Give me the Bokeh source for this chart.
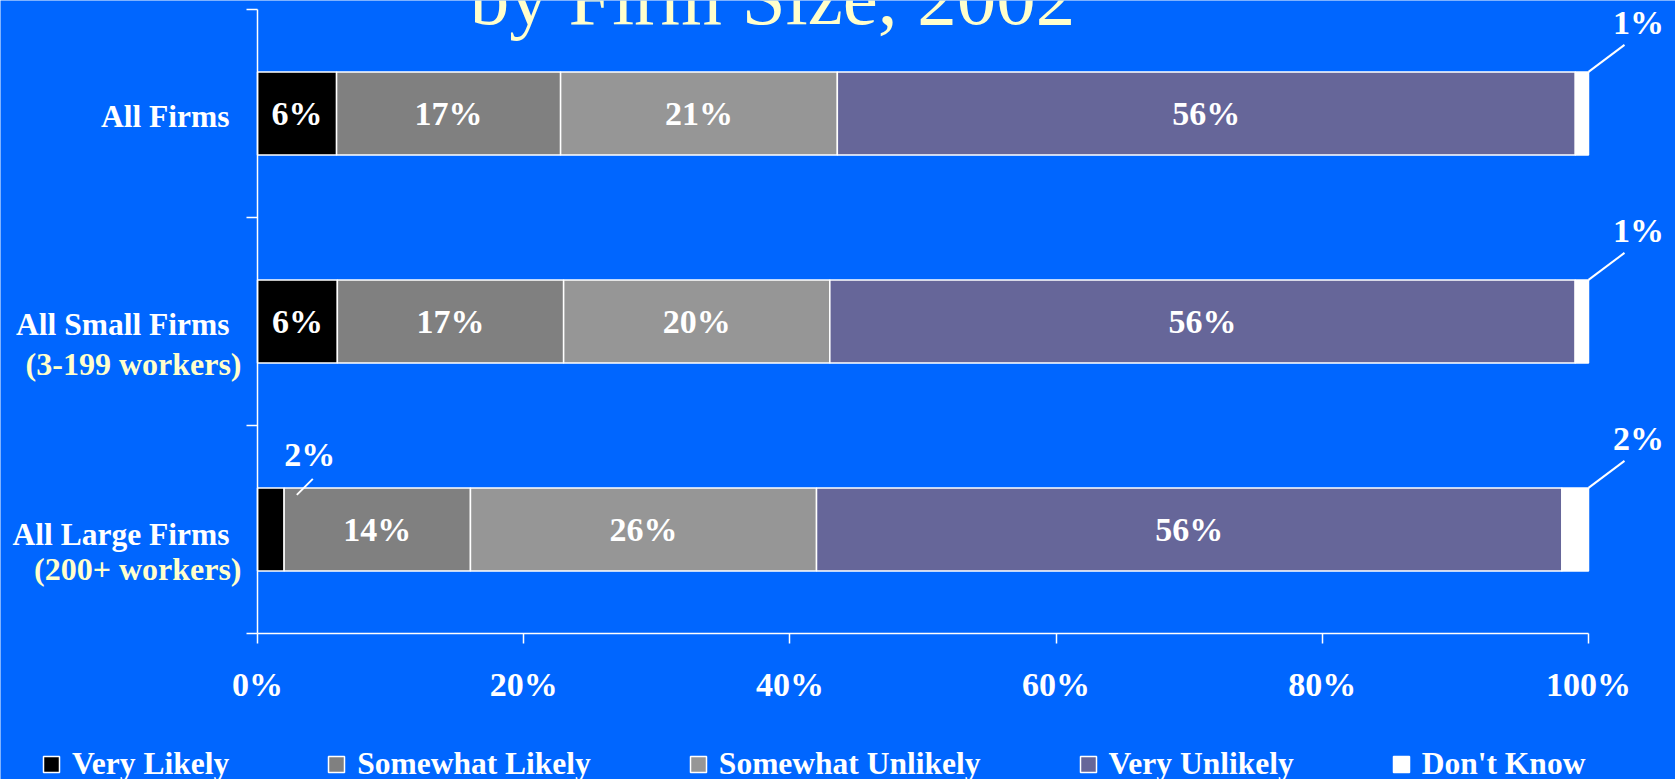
import numpy as np
from bokeh.plotting import figure
from bokeh.models import (Range1d, FixedTicker, PrintfTickFormatter, Legend,
                          LegendItem, ColumnDataSource)
from bokeh.core.properties import value
from bokeh.embed import file_html
from bokeh.resources import INLINE

# ---------------- data ----------------
categories = ["All Firms", "All Small Firms", "All Large Firms"]
subtitles = ["", "(3-199 workers)", "(200+ workers)"]
series = ["Very Likely", "Somewhat Likely", "Somewhat Unlikely", "Very Unlikely", "Don't Know"]
very_likely = [6, 6, 2]
somewhat_likely = [17, 17, 14]
somewhat_unlikely = [21, 20, 26]
very_unlikely = [56, 56, 56]
dont_know = [1, 1, 2]
x_ticks = [0, 20, 40, 60, 80, 100]
title_text = "by Firm Size, 2002"

values = [very_likely, somewhat_likely, somewhat_unlikely, very_unlikely, dont_know]

# ---------------- style / layout ----------------
FONT = "Liberation Serif"
FS = "34px"
BG = "#0066FF"
COLORS = ["#000000", "#808080", "#969696", "#666699", "#FFFFFF"]
W, H = 1675, 779
FL, FRX, FT, FB = 257, 1588, 9, 633      # plot area in pixels
PXX = (FRX - FL) / 100.0
PXY = (FB - FT) / 3.0
BAR_H = 0.4

p = figure(width=W, height=H,
           x_range=Range1d(-FL / PXX, (W - FL) / PXX),
           y_range=Range1d(-(H - FB) / PXY, FB / PXY),
           output_backend="svg", toolbar_location=None,
           min_border_left=0, min_border_right=0, min_border_top=0, min_border_bottom=0,
           background_fill_color=BG, border_fill_color=BG, outline_line_color=None)
p.xgrid.visible = False
p.ygrid.visible = False

xa = p.xaxis[0]
xa.fixed_location = 0
xa.bounds = (0, 100)
xa.ticker = FixedTicker(ticks=x_ticks)
xa.formatter = PrintfTickFormatter(format="%d%%")
xa.axis_line_color = "white"
xa.axis_line_width = 1.5
xa.major_tick_line_color = "white"
xa.major_tick_line_width = 1.5
xa.major_tick_in = 0
xa.major_tick_out = 10
xa.minor_tick_line_color = None
xa.major_label_text_font = FONT
xa.major_label_text_font_size = FS
xa.major_label_text_font_style = "bold"
xa.major_label_text_color = "white"
xa.major_label_standoff = 22

ya = p.yaxis[0]
ya.fixed_location = 0
ya.bounds = (0, 3)
ya.ticker = FixedTicker(ticks=[0, 1, 2, 3])
ya.axis_line_color = "white"
ya.axis_line_width = 1.5
ya.major_tick_line_color = "white"
ya.major_tick_line_width = 1.5
ya.major_tick_in = 0
ya.major_tick_out = 11
ya.minor_tick_line_color = None
ya.major_label_text_font_size = "0px"

ys = [2.5 - i for i in range(len(categories))]
totals = np.sum(np.array(values, dtype=float), axis=0)
shares = [np.array(v, dtype=float) / totals * 100 for v in values]

items = []
cum = np.zeros(len(categories))
inside = dict(x=[], y=[], t=[])
outside = dict(x=[], y=[], t=[])
lines = dict(x0=[], y0=[], x1=[], y1=[])
for si, name in enumerate(series):
    lefts = cum.copy()
    rights = cum + shares[si]
    r = p.hbar(y=ys, left=lefts, right=rights, height=BAR_H,
               fill_color=COLORS[si], line_color="white", line_width=1.5)
    items.append(LegendItem(label=name, renderers=[r]))
    for ci in range(len(categories)):
        lab = f"{values[si][ci]}%"
        top = ys[ci] + BAR_H / 2
        if shares[si][ci] >= 3:
            inside["x"].append((lefts[ci] + rights[ci]) / 2)
            inside["y"].append(ys[ci])
            inside["t"].append(lab)
        elif si == len(series) - 1:
            cx = rights[ci]
            lines["x0"].append(cx); lines["y0"].append(top)
            lines["x1"].append(cx + 36 / PXX); lines["y1"].append(top + 27 / PXY)
            outside["x"].append(cx + 50 / PXX); outside["y"].append(top + 49 / PXY)
            outside["t"].append(lab)
        else:
            cx = (lefts[ci] + rights[ci]) / 2
            lines["x0"].append(cx + 26 / PXX); lines["y0"].append(top - 7 / PXY)
            lines["x1"].append(cx + 42 / PXX); lines["y1"].append(top + 9 / PXY)
            outside["x"].append(cx + 39 / PXX); outside["y"].append(top + 33 / PXY)
            outside["t"].append(lab)
    cum = rights

common = dict(text_font=value(FONT), text_font_size=FS, text_font_style="bold",
              text_color="white", text_align="center", text_baseline="middle")
p.text(x="x", y="y", text="t", source=ColumnDataSource(inside), **common)
p.text(x="x", y="y", text="t", source=ColumnDataSource(outside), **common)
p.segment(x0="x0", y0="y0", x1="x1", y1="y1", source=ColumnDataSource(lines),
          line_color="white", line_width=2)

# title (partly cut off at the top, as in the reference)
p.text(x=[(772 - FL) / PXX], y=[(FB + 3) / PXY], text=[title_text],
       text_font=value(FONT), text_font_size="79px", text_color="#FFFFCC",
       text_align="center", text_baseline="alphabetic")

# category labels
line1_dy = [-2.5, -2.5, -4.5]
line2_dy = [0, -42, -39.5]
cat1 = dict(x=[-28 / PXX] * len(categories),
            y=[ys[i] + line1_dy[i] / PXY for i in range(len(categories))],
            t=categories)
idx2 = [i for i in range(len(categories)) if subtitles[i]]
cat2 = dict(x=[-16 / PXX] * len(idx2),
            y=[ys[i] + line2_dy[i] / PXY for i in idx2],
            t=[subtitles[i] for i in idx2])
p.text(x="x", y="y", text="t", source=ColumnDataSource(cat1),
       text_font=value(FONT), text_font_size="31.5px", text_font_style="bold",
       text_color="white", text_align="right", text_baseline="middle")
p.text(x="x", y="y", text="t", source=ColumnDataSource(cat2),
       text_font=value(FONT), text_font_size="32px", text_font_style="bold",
       text_color="#FFFFCC", text_align="right", text_baseline="middle")

legend = Legend(items=items, orientation="horizontal", location=(41, H - 782),
                glyph_width=20, glyph_height=20, label_standoff=11, spacing=97,
                padding=0, margin=0, background_fill_alpha=0, border_line_color=None,
                label_text_font=FONT, label_text_font_size="31.5px",
                label_text_font_style="bold", label_text_color="white")
p.add_layout(legend)

open("out.html", "w").write(file_html(p, INLINE))
